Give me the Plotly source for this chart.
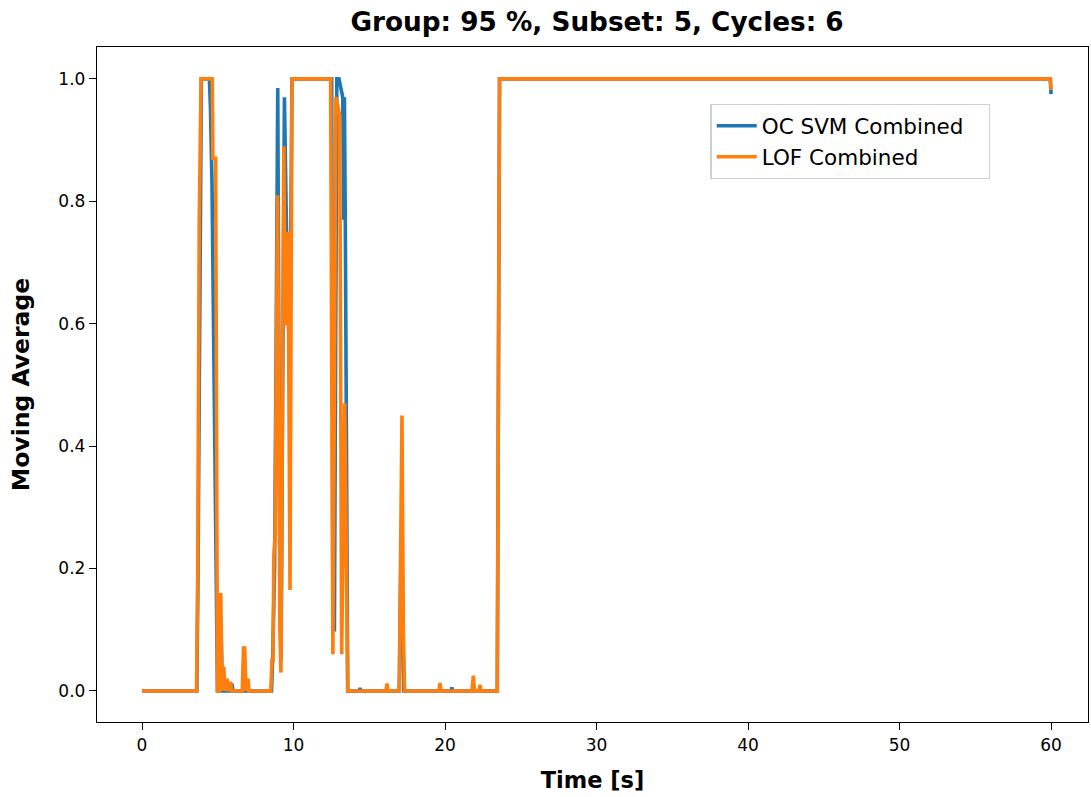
import plotly.graph_objects as go

# OC SVM Combined (breakpoints)
svm_t = [0.0, 3.62, 3.70, 3.76, 3.82, 3.92, 4.45, 4.52, 4.62, 4.72, 4.85, 4.98,
         5.15, 5.22, 5.30, 5.88, 5.94, 6.00, 6.66, 6.72, 6.80,
         8.55, 8.62, 8.75, 8.85, 8.96, 9.08, 9.18, 9.40, 9.52, 9.62, 9.76, 9.90,
         12.52, 12.60, 12.70, 12.86, 13.00, 13.25, 13.32, 13.36, 13.42, 13.50, 13.58,
         14.35, 14.39, 14.45, 16.98, 17.10, 17.18, 17.28,
         20.40, 20.45, 20.50, 23.45, 23.60, 59.95, 60.0]
svm_v = [0.0, 0.0, 0.2, 0.47, 0.7, 1.0, 1.0, 0.95, 0.83, 0.6, 0.2, 0.0,
         0.0, 0.1, 0.0, 0.0, 0.012, 0.0, 0.0, 0.05, 0.0,
         0.0, 0.05, 0.2, 0.55, 0.985, 0.3, 0.05, 0.97, 0.75, 0.62, 0.55, 1.0,
         1.0, 0.1, 0.1, 1.0, 1.0, 0.97, 0.77, 0.97, 0.76, 0.4, 0.0,
         0.0, 0.005, 0.0, 0.0, 0.25, 0.2, 0.0,
         0.0, 0.006, 0.0, 0.0, 1.0, 1.0, 0.975]

# LOF Combined
lof_t = [0.0, 3.60, 3.68, 3.74, 3.78, 3.90, 4.64, 4.68, 4.86, 4.98,
         5.10, 5.20, 5.28, 5.40, 5.48, 5.62, 5.70, 5.85, 5.92,
         6.62, 6.70, 6.78, 6.86, 7.00, 7.06,
         8.50, 8.58, 8.65, 8.70, 8.78, 8.95, 9.10, 9.17, 9.36, 9.45, 9.55, 9.64, 9.77, 9.90,
         12.45, 12.60, 12.80, 13.05, 13.18, 13.38, 13.58,
         16.10, 16.17, 16.24, 16.98, 17.07, 17.16, 17.25, 17.33,
         19.60, 19.67, 19.74, 21.78, 21.87, 21.95, 22.24, 22.31, 22.38,
         23.45, 23.60, 59.95, 60.0]
lof_v = [0.0, 0.0, 0.2, 0.6, 0.77, 1.0, 1.0, 0.87, 0.87, 0.0,
         0.0, 0.16, 0.0, 0.04, 0.0, 0.02, 0.0, 0.015, 0.0,
         0.0, 0.07, 0.07, 0.0, 0.02, 0.0,
         0.0, 0.05, 0.05, 0.22, 0.25, 0.81, 0.1, 0.03, 0.89, 0.6, 0.6, 0.75, 0.165, 1.0,
         1.0, 0.06, 0.97, 0.94, 0.06, 0.47, 0.0,
         0.0, 0.012, 0.0, 0.0, 0.22, 0.45, 0.1, 0.0,
         0.0, 0.013, 0.0, 0.0, 0.025, 0.0, 0.0, 0.01, 0.0,
         0.0, 1.0, 1.0, 0.982]

x_ticks = [0, 10, 20, 30, 40, 50, 60]
y_ticks = [0.0, 0.2, 0.4, 0.6, 0.8, 1.0]

FONT = "DejaVu Sans"
PAD = "\u00a0\u00a0\u00a0"

fig = go.Figure()
fig.add_trace(go.Scatter(x=svm_t, y=svm_v, mode="lines", name="OC SVM Combined" + PAD,
                         line=dict(color="#1f77b4", width=3.6)))
fig.add_trace(go.Scatter(x=lof_t, y=lof_v, mode="lines", name="LOF Combined",
                         line=dict(color="#ff7f0e", width=3.6)))

axis_common = dict(showline=True, linecolor="black", linewidth=1.4, mirror=True,
                   ticks="outside", ticklen=7, tickwidth=1.4, tickcolor="black",
                   showgrid=False, zeroline=False,
                   tickfont=dict(family=FONT, size=17, color="black"))

fig.update_layout(
    width=1091, height=797,
    margin=dict(l=97, r=3, t=47, b=75),
    paper_bgcolor="white", plot_bgcolor="white",
    font=dict(family=FONT, color="black"),
    title=dict(text="<b>Group: 95 %, Subset: 5, Cycles: 6</b>", x=(597 / 1091), xanchor="center",
               y=1 - 22 / 797, yanchor="middle", font=dict(family=FONT, size=26.3, color="black")),
    xaxis=dict(range=[-2.97, 62.44], tickvals=x_ticks, ticktext=[str(v) for v in x_ticks],
               title=dict(text="<b>Time [s]</b>", font=dict(family=FONT, size=22.5), standoff=18),
               **axis_common),
    yaxis=dict(range=[-0.0507, 1.052], tickvals=y_ticks, ticktext=[f"{v:.1f}" for v in y_ticks],
               title=dict(text="<b>Moving Average</b>", font=dict(family=FONT, size=23.5), standoff=22),
               **axis_common),
    legend=dict(x=0.619, y=0.9156, xanchor="left", yanchor="top",
                bordercolor="#d0d0d0", borderwidth=1.3, bgcolor="rgba(255,255,255,0.8)",
                font=dict(family=FONT, size=21.5, color="black"),
                itemwidth=40, tracegroupgap=0),
    showlegend=True,
)

fig.write_html("out.html")
